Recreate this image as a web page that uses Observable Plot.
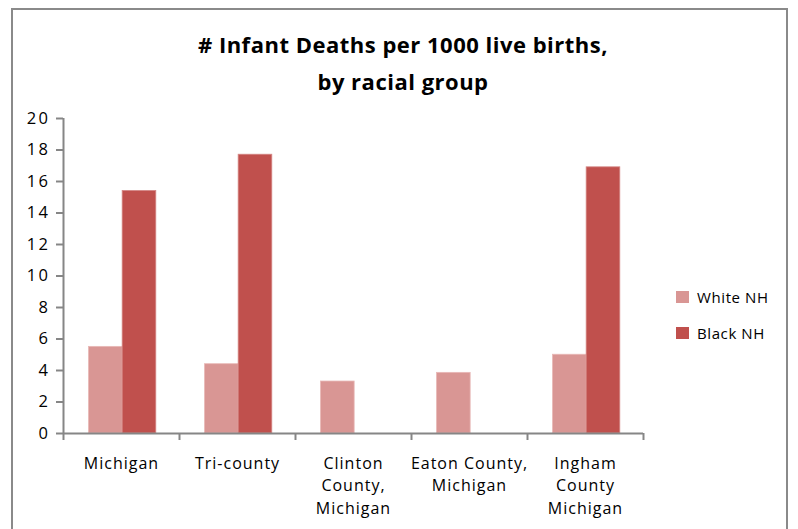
<!DOCTYPE html>
<html>
<head>
<meta charset="utf-8">
<script src="https://cdn.jsdelivr.net/npm/d3@7"></script>
<script src="https://cdn.jsdelivr.net/npm/@observablehq/plot@0.6"></script>
<style>
  html, body { margin: 0; padding: 0; background: #fff; }
  body { width: 798px; height: 529px; position: relative; overflow: hidden; font-family: "Open Sans", Lato, sans-serif; }
  #frame { position: absolute; left: 11px; top: 8px; width: 773px; height: 560px; border: 2.5px solid #8a8a8a; box-sizing: content-box; }
  #title { position: absolute; left: 0; top: 26px; width: 806px; text-align: center; font-weight: bold; font-size: 22px; letter-spacing: 0.5px; line-height: 37px; color: #000; }
  #chart { position: absolute; left: 0; top: 0; }
  #chart g[aria-label="y-axis tick label"] text { letter-spacing: 2.5px; font-size: 16.5px; }
  #legend { position: absolute; left: 676px; top: 279px; font-size: 15px; letter-spacing: 0.6px; color: #000; }
  .item { display: flex; align-items: center; height: 36px; }
  .sw { width: 13px; height: 12px; margin-right: 8px; }
</style>
</head>
<body>
<div id="frame"></div>
<div id="chart"></div>
<div id="title"># Infant Deaths per 1000 live births,<br>by racial group</div>
<div id="legend"></div>
<script>
const categories = ["Michigan", "Tri-county", "Clinton\nCounty,\nMichigan", "Eaton County,\nMichigan", "Ingham\nCounty\nMichigan"];
const seriesNames = ["White NH", "Black NH"];
const whiteNH = [5.5, 4.4, 3.3, 3.85, 5.0];
const blackNH = [15.4, 17.7, null, null, 16.9];
const yTicks = [0, 2, 4, 6, 8, 10, 12, 14, 16, 18, 20];
const colors = ["#d99694", "#c0504d"];

const idx = categories.map((d, i) => i);
const whiteRows = idx.map(i => ({i, v: whiteNH[i]})).filter(d => d.v != null);
const blackRows = idx.map(i => ({i, v: blackNH[i]})).filter(d => d.v != null);
const boundaries = d3.range(-0.5, categories.length, 1);
const axisColor = "#868686";

const plot = Plot.plot({
  width: 798,
  height: 529,
  marginLeft: 63,
  marginRight: 155,
  marginTop: 118,
  marginBottom: 96,
  style: {fontFamily: "'Open Sans', Lato, sans-serif", fontSize: "16px", letterSpacing: "1px", color: "#000", background: "transparent"},
  x: {domain: [-0.5, categories.length - 0.5], axis: null},
  y: {domain: [0, 20], axis: null},
  marks: [
    Plot.rectY(whiteRows, {x1: d => d.i - 0.28, x2: d => d.i + 0.01, y1: 0, y2: "v", fill: colors[0], stroke: "#e8b8b6", strokeWidth: 0.8}),
    Plot.rectY(blackRows, {x1: d => d.i + 0.01, x2: d => d.i + 0.30, y1: 0, y2: "v", fill: colors[1], stroke: "#d48785", strokeWidth: 0.8}),
    Plot.axisY({ticks: yTicks, tickSize: 7, tickPadding: 6, stroke: axisColor, strokeWidth: 2, fill: "#000", fontSize: 16.5, label: null}),
    Plot.axisX({ticks: boundaries, tickSize: 7, tickFormat: () => "", stroke: axisColor, strokeWidth: 2, label: null}),
    Plot.ruleX([-0.5], {y1: 0, y2: 20, stroke: axisColor, strokeWidth: 2}),
    Plot.ruleY([0], {stroke: axisColor, strokeWidth: 2}),
    Plot.text(categories, {x: (d, i) => i, y: 0, text: d => d, dy: 19, lineAnchor: "top", lineHeight: 1.42, fontSize: 16, fill: "#000"})
  ]
});
document.getElementById("chart").appendChild(plot);

const legend = d3.select("#legend");
seriesNames.forEach((name, k) => {
  const item = legend.append("div").attr("class", "item");
  item.append("div").attr("class", "sw").style("background", colors[k]);
  item.append("span").text(name);
});
</script>
</body>
</html>
